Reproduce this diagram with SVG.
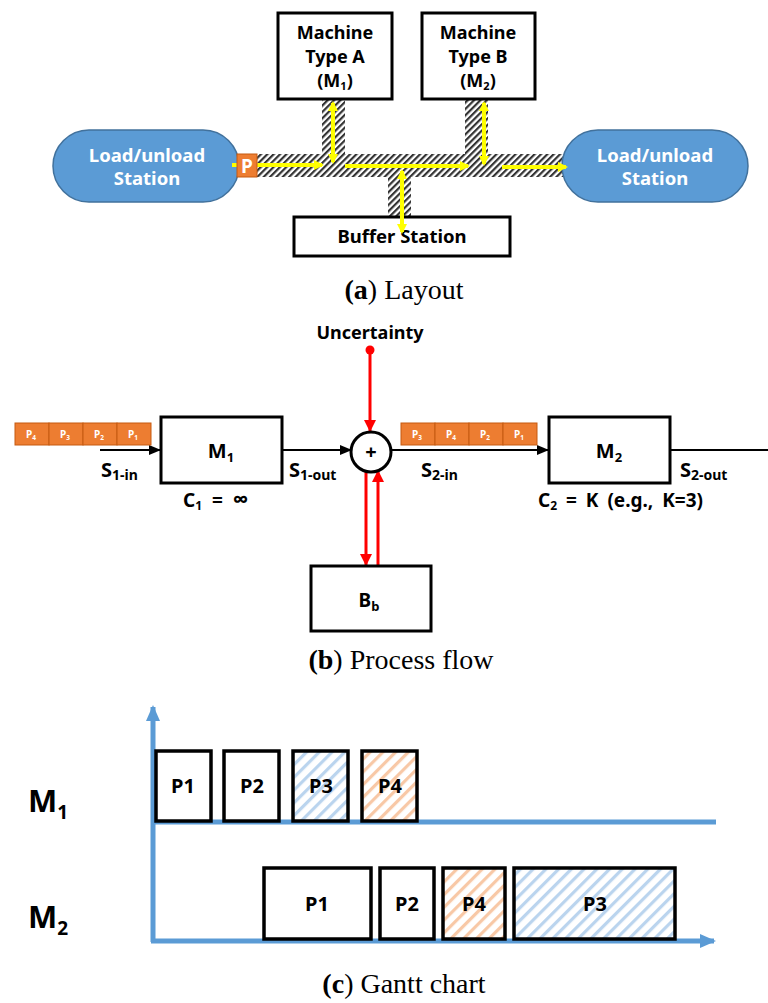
<svg xmlns="http://www.w3.org/2000/svg" width="768" height="1003" viewBox="0 0 768 1003">
  <style>
    .box { fill: #ffffff; stroke: #000000; stroke-width: 3; }
    .lbl { font-family: "Noto Sans", "Open Sans", sans-serif; font-weight: bold; fill: #000000; }
    .wlbl { font-family: "Noto Sans", "Open Sans", sans-serif; font-weight: bold; fill: #ffffff; }
    .cap { font-family: "Liberation Serif", "DejaVu Serif", serif; font-size: 28px; fill: #000000; text-anchor: middle; }
    .station { fill: #5B9BD5; stroke: #41719C; stroke-width: 1.5; }
    .track { fill: url(#trackHatch); }
    .yel { stroke: #FFFF00; stroke-width: 4; fill: none; }
    .red { stroke: #FF0000; stroke-width: 3; fill: none; }
    .blk { stroke: #000000; stroke-width: 2; fill: none; }
    .axis { stroke: #5B9BD5; stroke-width: 5; fill: none; }
    .cell { fill: #ED7D31; stroke: #C55A11; stroke-width: 1; }
    .gbox { stroke: #000000; stroke-width: 3.5; }
  </style>
  <defs>
    <pattern id="trackHatch" patternUnits="userSpaceOnUse" width="4.5" height="4.5" patternTransform="rotate(45)">
      <rect x="0" y="0" width="4.5" height="4.5" fill="#ffffff"/>
      <rect x="0" y="0" width="2.2" height="4.5" fill="#333333"/>
    </pattern>
    <pattern id="blueHatch" patternUnits="userSpaceOnUse" width="9" height="9" patternTransform="rotate(45)">
      <rect x="0" y="0" width="9" height="9" fill="#ffffff"/>
      <rect x="0" y="0" width="3.2" height="9" fill="#BAD4EE"/>
    </pattern>
    <pattern id="orangeHatch" patternUnits="userSpaceOnUse" width="9" height="9" patternTransform="rotate(45)">
      <rect x="0" y="0" width="9" height="9" fill="#ffffff"/>
      <rect x="0" y="0" width="3.2" height="9" fill="#F8C8A6"/>
    </pattern>
    <marker id="yHead" markerWidth="10" markerHeight="10" refX="8" refY="5" orient="auto-start-reverse" markerUnits="userSpaceOnUse">
      <path d="M0,0 L10,5 L0,10 Z" fill="#FFFF00"/>
    </marker>
    <marker id="kHead" markerWidth="12" markerHeight="10" refX="11" refY="5" orient="auto" markerUnits="userSpaceOnUse">
      <path d="M0,0 L12,5 L0,10 Z" fill="#000000"/>
    </marker>
    <marker id="rHead" markerWidth="12" markerHeight="12" refX="11" refY="6" orient="auto" markerUnits="userSpaceOnUse">
      <path d="M0,0 L12,6 L0,12 Z" fill="#FF0000"/>
    </marker>
    <marker id="bHead" markerWidth="16" markerHeight="14" refX="14" refY="7" orient="auto" markerUnits="userSpaceOnUse">
      <path d="M0,0 L16,7 L0,14 Z" fill="#5B9BD5"/>
    </marker>
  </defs>

  <!-- ===== Layout ===== -->
  <g id="tracks">
    <rect class="track" x="257" y="154" width="308" height="23"/>
    <rect class="track" x="322" y="99" width="23" height="56"/>
    <rect class="track" x="465" y="99" width="23" height="56"/>
    <rect class="track" x="388" y="176" width="23" height="41"/>
  </g>

  <g id="station-left">
    <rect class="station" x="53" y="130" width="186" height="72" rx="36"/>
    <text class="wlbl" font-size="18.5" text-anchor="middle" x="147" y="162">Load/unload</text>
    <text class="wlbl" font-size="18.5" text-anchor="middle" x="147" y="185">Station</text>
  </g>

  <g id="station-right">
    <rect class="station" x="562" y="130" width="186" height="72" rx="36"/>
    <text class="wlbl" font-size="18.5" text-anchor="middle" x="655" y="162">Load/unload</text>
    <text class="wlbl" font-size="18.5" text-anchor="middle" x="655" y="185">Station</text>
  </g>

  <g id="machine-a">
    <rect class="box" x="278" y="13" width="114" height="86"/>
    <text class="lbl" font-size="18" text-anchor="middle" x="335" y="39">Machine</text>
    <text class="lbl" font-size="18" text-anchor="middle" x="335" y="63">Type A</text>
    <text class="lbl" font-size="18" text-anchor="middle" x="335" y="87">(M<tspan font-size="11" dy="3">1</tspan><tspan dy="-3">)</tspan></text>
  </g>

  <g id="machine-b">
    <rect class="box" x="422" y="13" width="113" height="86"/>
    <text class="lbl" font-size="18" text-anchor="middle" x="478" y="39">Machine</text>
    <text class="lbl" font-size="18" text-anchor="middle" x="478" y="63">Type B</text>
    <text class="lbl" font-size="18" text-anchor="middle" x="478" y="87">(M<tspan font-size="11" dy="3">2</tspan><tspan dy="-3">)</tspan></text>
  </g>

  <g id="buffer-station">
    <rect class="box" x="294" y="217" width="216" height="39"/>
    <text class="lbl" font-size="18.5" text-anchor="middle" x="402" y="243">Buffer Station</text>
  </g>

  <g id="layout-flows">
    <line class="yel" x1="232" y1="165" x2="322" y2="165" marker-end="url(#yHead)"/>
    <line class="yel" x1="333" y1="103" x2="333" y2="162" marker-start="url(#yHead)" marker-end="url(#yHead)"/>
    <line class="yel" x1="345" y1="166" x2="468" y2="166" marker-end="url(#yHead)"/>
    <line class="yel" x1="402" y1="171" x2="402" y2="232" marker-start="url(#yHead)" marker-end="url(#yHead)"/>
    <line class="yel" x1="484" y1="103" x2="484" y2="164" marker-start="url(#yHead)" marker-end="url(#yHead)"/>
    <line class="yel" x1="502" y1="167" x2="566" y2="167" marker-end="url(#yHead)"/>
  </g>

  <g id="part-p">
    <rect x="237" y="154" width="20" height="23" fill="#ED7D31" stroke="#C55A11" stroke-width="1"/>
    <text class="wlbl" font-size="19" text-anchor="middle" x="247" y="173">P</text>
  </g>

  <text class="cap" x="404" y="299"><tspan font-weight="bold">(a</tspan>) Layout</text>

  <!-- ===== Process flow ===== -->
  <g id="flow-connectors">
    <line class="blk" x1="100" y1="450" x2="160" y2="450" marker-end="url(#kHead)"/>
    <line class="blk" x1="283" y1="450" x2="351" y2="450" marker-end="url(#kHead)"/>
    <line class="blk" x1="391" y1="450" x2="548" y2="450" marker-end="url(#kHead)"/>
    <line class="blk" x1="670" y1="450" x2="768" y2="450"/>
    <circle cx="370" cy="350" r="4.5" fill="#FF0000"/>
    <line class="red" x1="370" y1="350" x2="370" y2="431" marker-end="url(#rHead)"/>
    <line class="red" x1="366" y1="471" x2="366" y2="565" marker-end="url(#rHead)"/>
    <line class="red" x1="378" y1="565" x2="378" y2="471" marker-end="url(#rHead)"/>
  </g>

  <g id="uncertainty">
    <text class="lbl" font-size="18" text-anchor="middle" x="370" y="339">Uncertainty</text>
  </g>

  <g id="queue-in">
    <rect class="cell" x="15" y="423" width="34" height="22"/>
    <rect class="cell" x="49" y="423" width="34" height="22"/>
    <rect class="cell" x="83" y="423" width="34" height="22"/>
    <rect class="cell" x="117" y="423" width="34" height="22"/>
    <text class="wlbl" font-size="10" text-anchor="middle" x="31" y="438">P<tspan font-size="6.5" dy="2">4</tspan></text>
    <text class="wlbl" font-size="10" text-anchor="middle" x="65" y="438">P<tspan font-size="6.5" dy="2">3</tspan></text>
    <text class="wlbl" font-size="10" text-anchor="middle" x="99" y="438">P<tspan font-size="6.5" dy="2">2</tspan></text>
    <text class="wlbl" font-size="10" text-anchor="middle" x="133" y="438">P<tspan font-size="6.5" dy="2">1</tspan></text>
  </g>

  <g id="m1">
    <rect class="box" x="161" y="417" width="121" height="66"/>
    <text class="lbl" font-size="20" text-anchor="middle" x="221" y="458">M<tspan font-size="13" dy="4">1</tspan></text>
  </g>

  <g id="s1-labels">
    <text class="lbl" font-size="20" x="101" y="477">S<tspan font-size="14" dy="3">1-in</tspan></text>
    <text class="lbl" font-size="20" x="289" y="477">S<tspan font-size="14" dy="3">1-out</tspan></text>
    <text class="lbl" font-size="19" x="183" y="507" word-spacing="5">C<tspan font-size="12" dy="3">1</tspan><tspan dy="-3"> = <tspan font-size="22">∞</tspan></tspan></text>
  </g>

  <g id="merge">
    <circle cx="371" cy="452" r="20" fill="#ffffff" stroke="#000000" stroke-width="3"/>
    <text class="lbl" font-size="20" text-anchor="middle" x="371" y="459" font-weight="normal">+</text>
  </g>

  <g id="queue-mid">
    <rect class="cell" x="401" y="423" width="34" height="22"/>
    <rect class="cell" x="435" y="423" width="34" height="22"/>
    <rect class="cell" x="469" y="423" width="34" height="22"/>
    <rect class="cell" x="503" y="423" width="34" height="22"/>
    <text class="wlbl" font-size="10" text-anchor="middle" x="417" y="438">P<tspan font-size="6.5" dy="2">3</tspan></text>
    <text class="wlbl" font-size="10" text-anchor="middle" x="451" y="438">P<tspan font-size="6.5" dy="2">4</tspan></text>
    <text class="wlbl" font-size="10" text-anchor="middle" x="485" y="438">P<tspan font-size="6.5" dy="2">2</tspan></text>
    <text class="wlbl" font-size="10" text-anchor="middle" x="519" y="438">P<tspan font-size="6.5" dy="2">1</tspan></text>
  </g>

  <g id="m2">
    <rect class="box" x="549" y="417" width="121" height="66"/>
    <text class="lbl" font-size="20" text-anchor="middle" x="609" y="458">M<tspan font-size="13" dy="4">2</tspan></text>
  </g>

  <g id="s2-labels">
    <text class="lbl" font-size="20" x="421" y="477">S<tspan font-size="14" dy="3">2-in</tspan></text>
    <text class="lbl" font-size="20" x="680" y="477">S<tspan font-size="14" dy="3">2-out</tspan></text>
    <text class="lbl" font-size="19" x="538" y="507" word-spacing="4">C<tspan font-size="12" dy="3">2</tspan><tspan dy="-3"> = K (e.g., K=3)</tspan></text>
  </g>

  <g id="buffer">
    <rect class="box" x="311" y="566" width="120" height="65"/>
    <text class="lbl" font-size="19" text-anchor="middle" x="369" y="607">B<tspan font-size="13" dy="4">b</tspan></text>
  </g>

  <text class="cap" x="401" y="669"><tspan font-weight="bold">(b</tspan>) Process flow</text>

  <!-- ===== Gantt chart ===== -->
  <g id="gantt-axes">
    <line class="axis" x1="153" y1="942" x2="153" y2="707" marker-end="url(#bHead)"/>
    <line class="axis" x1="151" y1="941" x2="714" y2="941" marker-end="url(#bHead)"/>
    <line class="axis" x1="153" y1="822" x2="716" y2="822"/>
  </g>

  <g id="row-m1">
    <text class="lbl" font-size="31" x="28" y="812">M<tspan font-size="19" dy="7">1</tspan></text>
    <rect class="gbox" fill="#ffffff" x="156" y="751" width="55" height="70"/>
    <text class="lbl" font-size="20" text-anchor="middle" x="183" y="793">P1</text>
    <rect class="gbox" fill="#ffffff" x="224" y="751" width="55" height="70"/>
    <text class="lbl" font-size="20" text-anchor="middle" x="252" y="793">P2</text>
    <rect class="gbox" fill="url(#blueHatch)" x="293" y="751" width="55" height="70"/>
    <text class="lbl" font-size="20" text-anchor="middle" x="321" y="793">P3</text>
    <rect class="gbox" fill="url(#orangeHatch)" x="362" y="751" width="55" height="70"/>
    <text class="lbl" font-size="20" text-anchor="middle" x="390" y="793">P4</text>
  </g>

  <g id="row-m2">
    <text class="lbl" font-size="31" x="28" y="928">M<tspan font-size="19" dy="7">2</tspan></text>
    <rect class="gbox" fill="#ffffff" x="264" y="868" width="107" height="71"/>
    <text class="lbl" font-size="20" text-anchor="middle" x="317" y="911">P1</text>
    <rect class="gbox" fill="#ffffff" x="380" y="868" width="54" height="71"/>
    <text class="lbl" font-size="20" text-anchor="middle" x="407" y="911">P2</text>
    <rect class="gbox" fill="url(#orangeHatch)" x="443" y="868" width="62" height="71"/>
    <text class="lbl" font-size="20" text-anchor="middle" x="474" y="911">P4</text>
    <rect class="gbox" fill="url(#blueHatch)" x="514" y="868" width="161" height="71"/>
    <text class="lbl" font-size="20" text-anchor="middle" x="595" y="911">P3</text>
  </g>

  <text class="cap" x="404" y="993"><tspan font-weight="bold">(c</tspan>) Gantt chart</text>
</svg>
